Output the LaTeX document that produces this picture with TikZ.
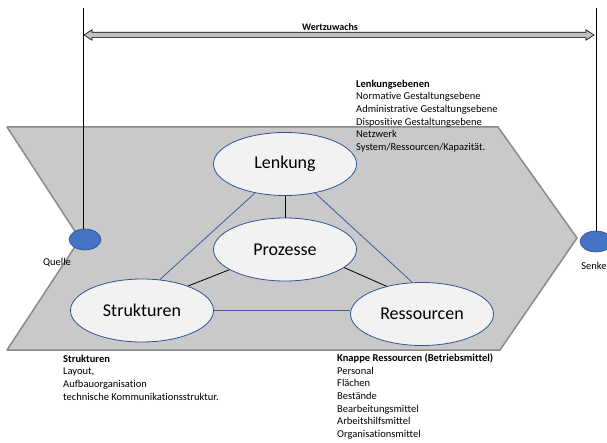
\documentclass[tikz,border=0pt]{standalone}
\usepackage{fontspec}
\setmainfont[Ligatures=NoCommon]{Carlito}
\usetikzlibrary{shapes.geometric}

\definecolor{chevfill}{HTML}{C9C9C9}
\definecolor{chevline}{HTML}{8A8A8A}
\definecolor{ellfill}{HTML}{F2F2F2}
\definecolor{ellline}{HTML}{2F5597}
\definecolor{linkblue}{HTML}{3B5C9E}
\definecolor{dotfill}{HTML}{4472C4}
\definecolor{dotline}{HTML}{2F528F}
\definecolor{arrowfill}{HTML}{BFBFBF}

\newcommand{\plabel}[1]{#1\hspace{22pt}}

\begin{document}
\begin{tikzpicture}[x=1pt, y=-1pt,
        proc/.style={ellipse, draw=ellline, fill=ellfill, line width=0.8pt, minimum width=143pt, minimum height=63pt, inner sep=0pt, font=\fontsize{18}{20}\selectfont},
        dot/.style={ellipse, draw=dotline, fill=dotfill, line width=0.6pt, minimum width=32pt, minimum height=21pt, inner sep=0pt},
        info/.style={align=left, anchor=north west, inner sep=0pt, font=\fontsize{10.5}{12.7}\selectfont},
        small/.style={inner sep=0pt, font=\fontsize{10.5}{12.7}\selectfont},
        bluelink/.style={draw=linkblue, line width=0.8pt},
        blacklink/.style={draw=black, line width=0.8pt}]
    \useasboundingbox (0,0) rectangle (607,443);

    % Wertschoepfungspfeil
    \fill[chevfill, draw=chevline, line width=1.5pt, line join=round]
        (7,127) -- (498,127) -- (577,238) -- (500,350) -- (7,350) -- (80,239) -- cycle;

    % Quelle und Senke
    \node[dot] (quelle) at (85,239.5) {};
    \node[dot] (senke) at (596,241.5) {};
    \node[small] (quellelbl) at (57,263) {Quelle};
    \node[small] (senkelbl) at (594,266) {Senke};
    \coordinate (qtop) at (83,8);
    \coordinate (stop) at (596,8);
    \draw[line width=0.8pt] (qtop) -- (qtop |- quelle.north);
    \draw[line width=0.8pt] (stop) -- (senke.north);

    % Wertzuwachs
    \draw[fill=arrowfill, line width=0.6pt, line join=miter]
        (84,35) -- (92,29.8) -- (92,32.3) -- (586,32.3) -- (586,29.8) -- (594,35)
        -- (586,40.2) -- (586,37.7) -- (92,37.7) -- (92,40.2) -- cycle;
    \node[small, font=\bfseries\fontsize{10}{12}\selectfont] (wert) at (330,27) {Wertzuwachs};

    % Ellipsen
    \node[proc] (lenkung) at (285,164) {\plabel{Lenkung}};
    \node[proc] (prozesse) at (285,249.5) {\plabel{Prozesse}};
    \node[proc] (strukturen) at (142,310.5) {\plabel{Strukturen}};
    \node[proc] (ressourcen) at (422,314) {\plabel{Ressourcen}};

    % Verbindungen
    \draw[bluelink] (lenkung.224) -- (strukturen.60);
    \draw[bluelink] (lenkung.316) -- (ressourcen.107);
    \draw[bluelink] (strukturen.east) -- (ressourcen.west |- strukturen.east);
    \draw[blacklink] (lenkung) -- (prozesse);
    \draw[blacklink] (prozesse.200) -- (strukturen.28);
    \draw[blacklink] (prozesse.343) -- (ressourcen.142);

    % Erlaeuterungen
    \node[info] (lenkinfo) at (356,79.5) {\textbf{Lenkungsebenen}\\Normative Gestaltungsebene\\Administrative Gestaltungsebene\\Dispositive Gestaltungsebene\\Netzwerk\\System/Ressourcen/Kapazität.};
    \node[info] (strukinfo) at (63,354.5) {\textbf{Strukturen}\\Layout,\\Aufbauorganisation\\technische Kommunikationsstruktur.};
    \node[info] (ressinfo) at (337,353.5) {\textbf{Knappe Ressourcen (Betriebsmittel)}\\Personal\\Flächen\\Bestände\\Bearbeitungsmittel\\Arbeitshilfsmittel\\Organisationsmittel};
\end{tikzpicture}
\end{document}
